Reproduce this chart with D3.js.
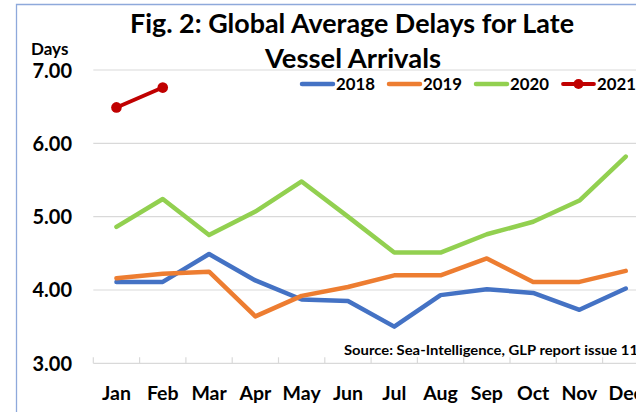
<!DOCTYPE html>
<html><head><meta charset="utf-8">
<script src="https://cdn.jsdelivr.net/npm/d3@7"></script>
<style>
html,body{margin:0;padding:0;background:#fff;overflow:hidden;}
text{font-family:Lato,"Open Sans",sans-serif;font-weight:bold;fill:#000;}
</style></head>
<body><svg id="c" width="636" height="412"></svg>
<script>
const months = ["Jan","Feb","Mar","Apr","May","Jun","Jul","Aug","Sep","Oct","Nov","Dec"];
const years = ["2018","2019","2020","2021"];
const v2018 = [4.11,4.11,4.49,4.13,3.87,3.85,3.50,3.93,4.01,3.96,3.73,4.02];
const v2019 = [4.16,4.22,4.25,3.64,3.92,4.04,4.20,4.20,4.43,4.11,4.11,4.26];
const v2020 = [4.86,5.24,4.75,5.07,5.48,5.00,4.51,4.51,4.76,4.93,5.22,5.82];
const v2021 = [6.49,6.76];
const yTicks = [3,4,5,6,7];
const colors = ["#4472C4","#ED7D31","#92D050","#C00000"];
const titleLines = ["Fig. 2: Global Average Delays for Late","Vessel Arrivals"];
const yUnit = "Days";
const sourceText = "Source: Sea-Intelligence, GLP report issue 11";

const svg = d3.select("#c");
svg.append("rect").attr("width",636).attr("height",412).attr("fill","#fff");

// frame border (chart area outline, cropped on right/bottom)
svg.append("path").attr("d","M16.5,412 V4.5 H636").attr("fill","none")
  .attr("stroke","#8EA9DB").attr("stroke-width",1.3);

const x = d3.scaleBand().domain(months).range([93.3, 93.3 + 12*46.3]).padding(0);
const y = d3.scaleLinear().domain([3,7]).range([363.3,70]);
const cx = m => x(m) + x.bandwidth()/2;

// gridlines
const grid = svg.append("g");
grid.selectAll("line").data(yTicks.filter(d=>d>3)).join("line")
  .attr("x1",93.3).attr("x2",650).attr("y1",d=>y(d)).attr("y2",d=>y(d))
  .attr("stroke","#D9D9D9").attr("stroke-width",1.2);

// x axis line + inside ticks at category boundaries
svg.append("line").attr("x1",93.3).attr("x2",650).attr("y1",y(3)).attr("y2",y(3))
  .attr("stroke","#D9D9D9").attr("stroke-width",1.2);
svg.append("g").selectAll("line").data(months).join("line")
  .attr("x1",d=>x(d)).attr("x2",d=>x(d)).attr("y1",y(3)).attr("y2",y(3)-6)
  .attr("stroke","#D9D9D9").attr("stroke-width",1.2);

// x labels
const xAxis = svg.append("g").attr("transform",`translate(0,${y(3)})`)
  .call(d3.axisBottom(x).tickSize(0).tickPadding(0));
xAxis.select(".domain").remove();
xAxis.selectAll("text").attr("y",37).attr("dy",0).style("font-size","19.5px")
  .style("font-family","Lato").style("font-weight","bold").attr("fill","#000");

// y labels
const yAxis = svg.append("g").attr("transform","translate(72,0)")
  .call(d3.axisLeft(y).tickValues(yTicks).tickFormat(d3.format(".2f")).tickSize(0).tickPadding(0));
yAxis.select(".domain").remove();
yAxis.selectAll("text").attr("dy",0).attr("y",7).style("font-size","20px")
  .style("font-family","Lato").style("font-weight","bold").attr("fill","#000");

svg.append("text").attr("x",31).attr("y",55).style("font-size","17px").text(yUnit);

// title
svg.append("text").attr("x",130).attr("y",33).style("font-size","26px")
  .attr("textLength",444).attr("lengthAdjust","spacingAndGlyphs").text(titleLines[0]);
svg.append("text").attr("x",265).attr("y",68).style("font-size","26px")
  .attr("textLength",176).attr("lengthAdjust","spacingAndGlyphs").text(titleLines[1]);

// source
svg.append("text").attr("x",344).attr("y",355).style("font-size","13.5px")
  .attr("textLength",294).attr("lengthAdjust","spacingAndGlyphs").text(sourceText);

// series
const series = [v2018,v2019,v2020,v2021];
const line = d3.line().x((d,i)=>cx(months[i])).y(d=>y(d));
series.forEach((s,k)=>{
  svg.append("path").datum(s).attr("d",line).attr("fill","none")
    .attr("stroke",colors[k]).attr("stroke-width",k===3?3.8:4.5)
    .attr("stroke-linejoin","round").attr("stroke-linecap","round");
});
svg.append("g").selectAll("circle").data(v2021).join("circle")
  .attr("cx",(d,i)=>cx(months[i])).attr("cy",d=>y(d)).attr("r",5.3).attr("fill",colors[3]);

// legend
const legX = [302, 389, 476, 563];
const leg = svg.append("g");
years.forEach((yr,k)=>{
  leg.append("line").attr("x1",legX[k]).attr("x2",legX[k]+31).attr("y1",84).attr("y2",84)
    .attr("stroke",colors[k]).attr("stroke-width",k===3?3.8:4.5).attr("stroke-linecap","round");
  if(k===3) leg.append("circle").attr("cx",legX[k]+15.5).attr("cy",84).attr("r",5).attr("fill",colors[k]);
  leg.append("text").attr("x",legX[k]+34).attr("y",90).style("font-size","16.8px").text(yr);
});
</script></body></html>
